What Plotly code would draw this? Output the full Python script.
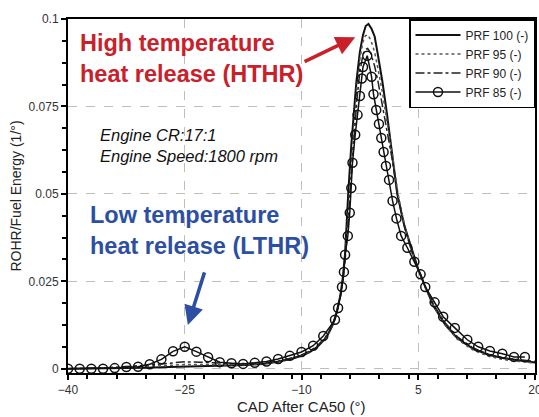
import plotly.graph_objects as go

# ---------------- data ----------------
cad_100 = [-40, -35, -30, -27, -25, -22, -20, -17, -15, -13, -11, -10, -9, -8, -7, -6.5, -6, -5.5, -5,
           -4.7, -4.4, -4.2, -4.0, -3.6, -3.3, -2.95, -2.5, -2.1, -1.75, -1.4, -1.0, -0.6, -0.25, 0.4,
           1.0, 1.5, 2.3, 3.2, 4.1, 5.0, 5.8, 7, 8.5, 10, 12, 14, 16, 18, 20]
rohr_100 = [0.0000, 0.0001, 0.0003, 0.0005, 0.0006, 0.0007, 0.0008, 0.0011, 0.0014, 0.0020, 0.0030,
            0.0037, 0.0047, 0.0062, 0.0085, 0.0102, 0.0125, 0.0160, 0.0210,
            0.0260, 0.0330, 0.0420, 0.0500, 0.0640, 0.0726, 0.0820, 0.0906, 0.0954, 0.0980, 0.0986,
            0.0972, 0.0950, 0.0906, 0.0820,
            0.0726, 0.0640, 0.0500, 0.0410, 0.0345, 0.0285, 0.0240, 0.0178, 0.0125, 0.0088, 0.0058,
            0.0040, 0.0030, 0.0023, 0.0018]

cad_95 = [-40, -35, -30, -27, -25, -22, -20, -17, -15, -13, -11, -10, -9, -8, -7, -6.5, -6, -5.5, -5,
          -4.7, -4.4, -4.1, -3.8, -3.5, -3.2, -2.9, -2.5, -2.1, -1.8, -1.5, -1.1, -0.6, -0.2, 0.4,
          1.0, 1.6, 2.4, 3.3, 4.2, 5.0, 5.9, 7, 8.5, 10, 12, 14, 16, 18, 20]
rohr_95 = [0.0000, 0.0002, 0.0006, 0.0010, 0.0012, 0.0012, 0.0011, 0.0012, 0.0015, 0.0021, 0.0031,
           0.0038, 0.0048, 0.0063, 0.0086, 0.0103, 0.0126, 0.0160, 0.0208,
           0.0255, 0.0320, 0.0405, 0.0510, 0.0610, 0.0715, 0.0805, 0.0885, 0.0935, 0.0952, 0.0955,
           0.0940, 0.0905, 0.0860, 0.0790,
           0.0705, 0.0625, 0.0500, 0.0405, 0.0335, 0.0282, 0.0232, 0.0178, 0.0124, 0.0085, 0.0054,
           0.0036, 0.0026, 0.0020, 0.0016]

cad_90 = [-40, -35, -30, -27, -25, -23, -21, -19, -17, -15, -13, -11, -10, -9, -8, -7, -6.5, -6, -5.5,
          -5, -4.7, -4.4, -4.1, -3.8, -3.5, -3.2, -2.9, -2.5, -2.1, -1.8, -1.5, -1.1, -0.6, -0.2, 0.4,
          1.0, 1.6, 2.4, 3.3, 4.2, 5.0, 5.9, 7, 8.5, 10, 12, 14, 16, 18, 20]
rohr_90 = [0.0000, 0.0003, 0.0010, 0.0017, 0.0020, 0.0019, 0.0016, 0.0015, 0.0015, 0.0017, 0.0022,
           0.0032, 0.0040, 0.0050, 0.0065, 0.0088, 0.0105, 0.0128, 0.0160,
           0.0205, 0.0250, 0.0310, 0.0390, 0.0490, 0.0585, 0.0680, 0.0765, 0.0850, 0.0898, 0.0913,
           0.0916, 0.0902, 0.0865, 0.0825, 0.0755,
           0.0680, 0.0605, 0.0490, 0.0400, 0.0332, 0.0282, 0.0235, 0.0182, 0.0130, 0.0092, 0.0060,
           0.0042, 0.0031, 0.0025, 0.0021]

cad_85 = [-40, -38.5, -37, -35.5, -34, -32.5, -31, -29.5, -28, -26.5, -25, -23.5, -22, -20.5, -19,
          -17.5, -16, -14.5, -13, -11.5, -10, -8.5, -7.2, -5.7, -5.3, -4.8, -4.55, -4.4, -4.05, -3.8,
          -3.6, -3.45, -3.1, -2.8, -2.5, -2.25, -2.1, -1.55, -1.0, -0.75, -0.4, -0.05, 0.25, 0.55,
          0.85, 1.25, 1.7, 2.2, 2.8, 3.6, 4.5, 5.3, 5.9, 7.1, 8.2, 9.7, 11.3, 12.7, 14.2, 15.8,
          17.3, 18.7]
rohr_85 = [0.0000, 0.0000, 0.0000, 0.0000, 0.0002, 0.0005, 0.0006, 0.0013, 0.0027, 0.0050, 0.0063,
           0.0049, 0.0033, 0.0019, 0.0016, 0.0014, 0.0017, 0.0021, 0.0028, 0.0037, 0.0048, 0.0066,
           0.0094, 0.0140, 0.0174, 0.0234, 0.0277, 0.0326, 0.0380, 0.0446,
           0.0517, 0.0589, 0.0669, 0.0726, 0.0780, 0.0830, 0.0863, 0.0895, 0.0835, 0.0785, 0.0740,
           0.0700, 0.0660, 0.0620, 0.0580, 0.0540, 0.0480, 0.0430, 0.0380, 0.0346, 0.0306, 0.0270,
           0.0234, 0.0190, 0.0149, 0.0117, 0.0083, 0.0063, 0.0051, 0.0043, 0.0034, 0.0034]

series_names = ["PRF 100 (-)", "PRF 95 (-)", "PRF 90 (-)", "PRF 85 (-)"]
x_ticks = [-40, -25, -10, 5, 20]
y_ticks = [0, 0.025, 0.05, 0.075, 0.1]
y_tick_labels = ["0", "0.025", "0.05", "0.075", "0.1"]

FONT = "Liberation Sans, Arial"

# ---------------- figure ----------------
fig = go.Figure()
fig.add_trace(go.Scatter(x=cad_100, y=rohr_100, name=series_names[0], mode="lines",
                         line=dict(color="#111111", width=2)))
fig.add_trace(go.Scatter(x=cad_95, y=rohr_95, name=series_names[1], mode="lines",
                         line=dict(color="#555555", width=1.5, dash="dot")))
fig.add_trace(go.Scatter(x=cad_90, y=rohr_90, name=series_names[2], mode="lines",
                         line=dict(color="#222222", width=1.5, dash="dashdot")))
fig.add_trace(go.Scatter(x=cad_85, y=rohr_85, name=series_names[3], mode="lines+markers",
                         line=dict(color="#111111", width=1.5),
                         marker=dict(symbol="circle-open", size=9, color="#111111",
                                     line=dict(width=1.5))))

red = "#c9202a"
blue = "#2c4fa3"
fig.add_annotation(x=-38.75, y=0.0887, xref="x", yref="y", xanchor="left", yanchor="middle",
                   text="<b>High temperature<br>heat release (HTHR)</b>", showarrow=False,
                   align="left", font=dict(family=FONT, size=23.5, color=red))
fig.add_annotation(x=-3.1, y=0.0948, ax=-9.8, ay=0.0876, xref="x", yref="y", axref="x", ayref="y",
                   text="", showarrow=True, arrowhead=2, arrowsize=1.1, arrowwidth=3.5,
                   arrowcolor=red)
fig.add_annotation(x=-37.45, y=0.0395, xref="x", yref="y", xanchor="left", yanchor="middle",
                   text="<b>Low temperature<br>heat release (LTHR)</b>", showarrow=False,
                   align="left", font=dict(family=FONT, size=23.5, color=blue))
fig.add_annotation(x=-24.6, y=0.0125, ax=-22.4, ay=0.0280, xref="x", yref="y", axref="x", ayref="y",
                   text="", showarrow=True, arrowhead=2, arrowsize=1.1, arrowwidth=3.5,
                   arrowcolor=blue)
fig.add_annotation(x=-36.15, y=0.0639, xref="x", yref="y", xanchor="left", yanchor="middle",
                   text="<i>Engine CR:17:1<br>Engine Speed:1800 rpm</i>", showarrow=False,
                   align="left", font=dict(family=FONT, size=16.5, color="#111111"))
# x-axis title placed as paper annotation for exact vertical position
fig.add_annotation(x=0.5, y=0, xref="paper", yref="paper", xanchor="center", yanchor="middle",
                   yshift=-33, text="CAD After CA50 (°)", showarrow=False,
                   font=dict(family=FONT, size=15, color="#222222"))

axis_common = dict(showline=True, linecolor="black", linewidth=2, mirror=True,
                   ticks="outside", ticklen=5, tickwidth=1.5, tickcolor="black",
                   showgrid=True, gridcolor="#c4bdb6", griddash="dash", gridwidth=1,
                   zeroline=False, automargin=False, ticklabeloverflow="allow",
                   tickfont=dict(family=FONT, size=12, color="#333333"))

fig.update_xaxes(range=[-40, 20], tickvals=x_ticks,
                 minor=dict(dtick=3.75, ticks="outside", ticklen=4, tickwidth=1.5, tickcolor="black",
                            showgrid=False),
                 **axis_common)
fig.update_yaxes(range=[-0.0012, 0.1], tickvals=y_ticks, ticktext=y_tick_labels,
                 minor=dict(dtick=0.00625, ticks="outside", ticklen=4, tickwidth=1.5, tickcolor="black",
                            showgrid=False),
                 title=dict(text="ROHR/Fuel Energy (1/°)", standoff=4,
                            font=dict(family=FONT, size=14, color="#222222")),
                 **axis_common)

fig.update_layout(
    width=539, height=417,
    margin=dict(l=68, r=4, t=19, b=44),
    plot_bgcolor="white", paper_bgcolor="white",
    font=dict(family=FONT),
    legend=dict(x=1, y=1, xanchor="right", yanchor="top", bgcolor="white",
                bordercolor="black", borderwidth=1.5, itemwidth=45,
                font=dict(family=FONT, size=12, color="#222222"),
                tracegroupgap=0),
    showlegend=True,
)

fig.write_html("out.html", config={"displayModeBar": False},
               post_script="document.body.style.margin='0';document.body.style.overflow='hidden';")
